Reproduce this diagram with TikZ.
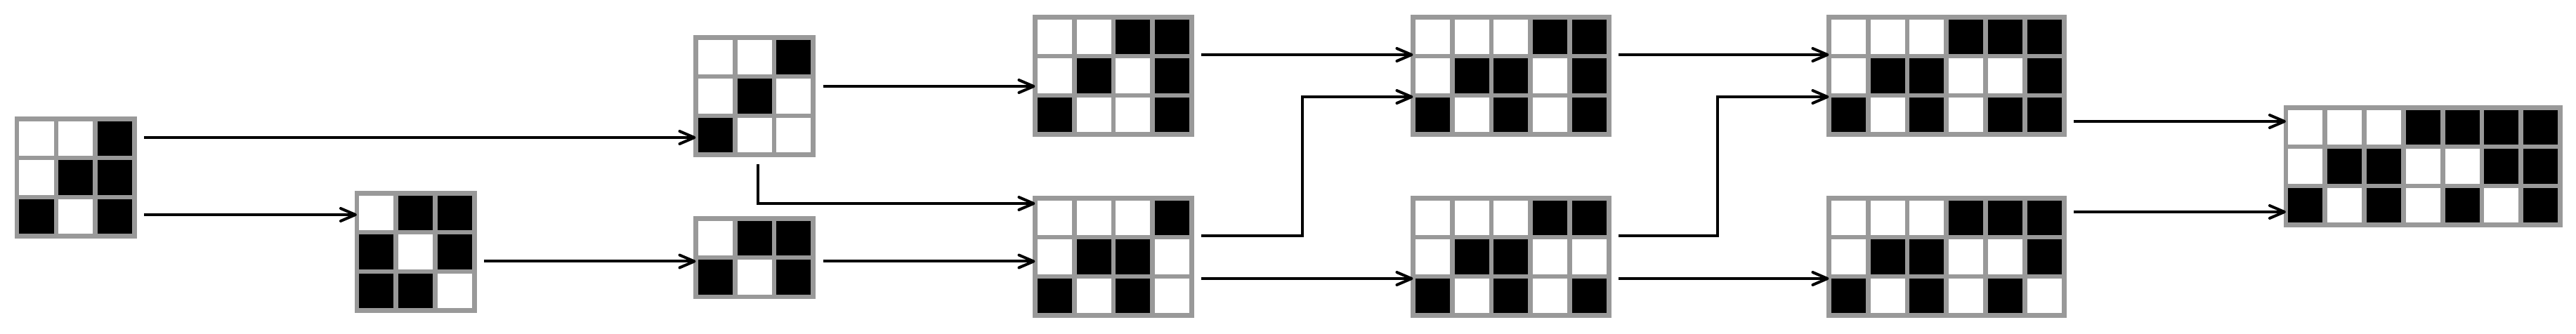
\documentclass[tikz,border=0pt]{standalone}
\usetikzlibrary{arrows.meta}
\definecolor{gridgray}{gray}{0.6}

\newcommand{\cellsize}{0.558}
% #1 name, #2 top left corner, #3 columns, #4 rows, #5 rows of cells (1 = black)
\newcommand{\pixgrid}[5]{%
  \begin{scope}[shift={#2}]
    \node[gridbox, minimum width={#3*\cellsize*1cm}, minimum height={#4*\cellsize*1cm}] (#1) at (0,0) {};
    \foreach \cells [count=\r] in {#5} {
      \foreach \v [count=\c] in \cells {
        \ifnum\v=1 \def\cellcol{black}\else\def\cellcol{white}\fi
        \filldraw[cellbox, fill=\cellcol] ({(\c-1)*\cellsize},{-(\r-1)*\cellsize}) rectangle +(\cellsize,-\cellsize);
      }
    }
  \end{scope}
}

\begin{document}
\begin{tikzpicture}[
    gridbox/.style={inner sep=0, outer sep=0.0535cm, anchor=north west},
    cellbox/.style={draw=gridgray, line width=0.067cm},
    arr/.style={line width=0.04cm, shorten <=0.03cm, -{Straight Barb[round, length=2.1mm, width=1.8mm]}}
]
\useasboundingbox (0,0) rectangle (36.67,4.75);

% Draw the grids
\pixgrid{a}{(0.241,3.057)}{3}{3}{{0,0,1},{0,1,1},{1,0,1}}
\pixgrid{b}{(5.079,1.997)}{3}{3}{{0,1,1},{1,0,1},{1,1,0}}
\pixgrid{c}{(9.904,4.217)}{3}{3}{{0,0,1},{0,1,0},{1,0,0}}
\pixgrid{d}{(9.904,1.637)}{3}{2}{{0,1,1},{1,0,1}}
\pixgrid{e}{(14.734,4.507)}{4}{3}{{0,0,1,1},{0,1,0,1},{1,0,0,1}}
\pixgrid{f}{(14.734,1.927)}{4}{3}{{0,0,0,1},{0,1,1,0},{1,0,1,0}}
\pixgrid{g}{(20.114,4.507)}{5}{3}{{0,0,0,1,1},{0,1,1,0,1},{1,0,1,0,1}}
\pixgrid{h}{(20.114,1.927)}{5}{3}{{0,0,0,1,1},{0,1,1,0,0},{1,0,1,0,1}}
\pixgrid{i}{(26.034,4.507)}{6}{3}{{0,0,0,1,1,1},{0,1,1,0,0,1},{1,0,1,0,1,1}}
\pixgrid{j}{(26.034,1.927)}{6}{3}{{0,0,0,1,1,1},{0,1,1,0,0,1},{1,0,1,0,1,0}}
\pixgrid{k}{(32.539,3.217)}{7}{3}{{0,0,0,1,1,1,1},{0,1,1,0,0,1,1},{1,0,1,0,1,0,1}}

% Draw the arrows
\draw[arr] (a.east |- 0,2.79) -- (c.west |- 0,2.79);
\draw[arr] (a.east |- 0,1.69) -- (b.west |- 0,1.69);
\draw[arr] (b.east |- d.west) -- (d.west);
\draw[arr] (c.east |- 0,3.52) -- (e.west |- 0,3.52);
\draw[arr] (c.south) -- (c.south |- 0,1.85) -- (f.west |- 0,1.85);
\draw[arr] (d.east) -- (f.west |- d.east);
\draw[arr] (e.east |- 0,3.97) -- (g.west |- 0,3.97);
\draw[arr] (f.east |- 0,1.39) -| (18.54,3.37) -- (g.west |- 0,3.37);
\draw[arr] (f.east |- 0,0.78) -- (h.west |- 0,0.78);
\draw[arr] (g.east |- 0,3.97) -- (i.west |- 0,3.97);
\draw[arr] (h.east |- 0,1.39) -| (24.45,3.37) -- (i.west |- 0,3.37);
\draw[arr] (h.east |- 0,0.78) -- (j.west |- 0,0.78);
\draw[arr] (i.east |- 0,3.02) -- (k.west |- 0,3.02);
\draw[arr] (j.east |- 0,1.73) -- (k.west |- 0,1.73);
\end{tikzpicture}
\end{document}
